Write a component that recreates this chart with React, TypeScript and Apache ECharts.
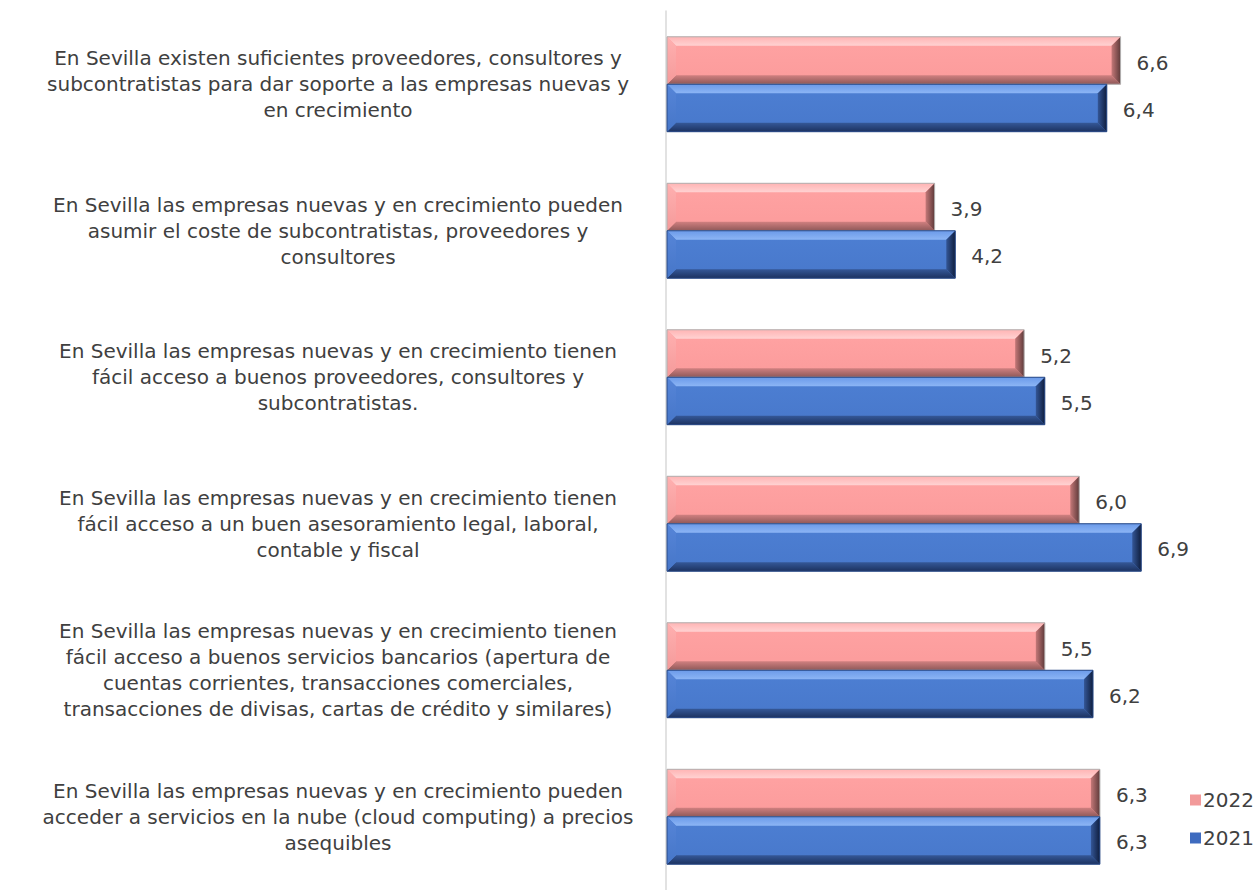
import React, { useEffect, useRef } from "react";
import * as echarts from "echarts";

const categories = [
  "En Sevilla existen suficientes proveedores, consultores y\nsubcontratistas para dar soporte a las empresas nuevas y\nen crecimiento",
  "En Sevilla las empresas nuevas y en crecimiento pueden\nasumir el coste de subcontratistas, proveedores y\nconsultores",
  "En Sevilla las empresas nuevas y en crecimiento tienen\nfácil acceso a buenos proveedores, consultores y\nsubcontratistas.",
  "En Sevilla las empresas nuevas y en crecimiento tienen\nfácil acceso a un buen asesoramiento legal, laboral,\ncontable y fiscal",
  "En Sevilla las empresas nuevas y en crecimiento tienen\nfácil acceso a buenos servicios bancarios (apertura de\ncuentas corrientes, transacciones comerciales,\ntransacciones de divisas, cartas de crédito y similares)",
  "En Sevilla las empresas nuevas y en crecimiento pueden\nacceder a servicios en la nube (cloud computing) a precios\nasequibles",
];
const values2022 = [6.6, 3.9, 5.2, 6.0, 5.5, 6.3];
const values2021 = [6.4, 4.2, 5.5, 6.9, 6.2, 6.3];
const seriesNames = ["2022", "2021"];

const FONT = "DejaVu Sans";
const TEXT = "#404040";

const lin = (a: string, b: string, horiz = false) => ({
  type: "linear",
  x: 0,
  y: 0,
  x2: horiz ? 1 : 0,
  y2: horiz ? 0 : 1,
  colorStops: [
    { offset: 0, color: a },
    { offset: 1, color: b },
  ],
});

const palettes: any = {
  "2022": {
    face: lin("#FFA3A3", "#FB9B9B"),
    top: lin("#FFB4B4", "#FFD2D2"),
    bottom: lin("#D08080", "#8E5858"),
    left: lin("#FFB0B0", "#F59A9A"),
    right: lin("#C47878", "#5E3A3A", true),
    stroke: "#B0B0B0",
    legend: "#F29A9A",
  },
  "2021": {
    face: lin("#4D7FD3", "#4878CB"),
    top: lin("#6B9AE9", "#8CB5F5"),
    bottom: lin("#355898", "#1C3260"),
    left: lin("#5685D8", "#4676C8"),
    right: lin("#345696", "#0F1E3E", true),
    stroke: "#2A4A86",
    legend: "#3E6BBF",
  },
};

const fmt = (v: number) => v.toFixed(1).replace(".", ",");

function makeRender(name: string, isTop: boolean) {
  const p = palettes[name];
  return (params: any, api: any) => {
    const ci = api.value(0);
    const v = api.value(1);
    const start = api.coord([0, ci]);
    const end = api.coord([v, ci]);
    const band = api.size([0, 1])[1];
    const h = band * 0.324;
    const x0 = start[0] + 1;
    const x1 = end[0];
    const y0 = isTop ? start[1] - h : start[1];
    const y1 = y0 + h;
    const b = Math.min(9, (x1 - x0) / 2, h / 2);
    return {
      type: "group",
      children: [
        { type: "rect", shape: { x: x0, y: y0, width: x1 - x0, height: h }, style: { fill: p.face } },
        {
          type: "polygon",
          shape: { points: [[x0, y0], [x1, y0], [x1 - b, y0 + b], [x0 + b, y0 + b]] },
          style: { fill: p.top },
        },
        {
          type: "polygon",
          shape: { points: [[x0, y1], [x1, y1], [x1 - b, y1 - b], [x0 + b, y1 - b]] },
          style: { fill: p.bottom },
        },
        {
          type: "polygon",
          shape: { points: [[x0, y0], [x0 + b, y0 + b], [x0 + b, y1 - b], [x0, y1]] },
          style: { fill: p.left },
        },
        {
          type: "polygon",
          shape: { points: [[x1, y0], [x1 - b, y0 + b], [x1 - b, y1 - b], [x1, y1]] },
          style: { fill: p.right },
        },
        {
          type: "rect",
          shape: { x: x0, y: y0, width: x1 - x0, height: h },
          style: { fill: "none", stroke: p.stroke, lineWidth: 1 },
        },
        {
          type: "text",
          style: {
            text: fmt(v),
            x: x1 + 16,
            y: (y0 + y1) / 2 + 2,
            verticalAlign: "middle",
            align: "left",
            fontSize: 20,
            fontFamily: FONT,
            fill: TEXT,
          },
        },
      ],
    };
  };
}

export default function App() {
  const ref = useRef<HTMLDivElement>(null);
  useEffect(() => {
    const chart = echarts.init(ref.current!, null, { renderer: "svg" });
    const mk = (name: string, vals: number[], isTop: boolean) => ({
      type: "custom",
      name,
      color: palettes[name].legend,
      encode: { x: 1, y: 0 },
      data: vals.map((v, i) => [i, v]),
      renderItem: makeRender(name, isTop),
    });
    chart.setOption({
      animation: false,
      backgroundColor: "#ffffff",
      grid: { left: 666, top: 11, width: 551, height: 888, containLabel: false },
      xAxis: {
        type: "value",
        min: 0,
        max: 8,
        axisLabel: { show: false },
        axisLine: { show: false },
        axisTick: { show: false },
        splitLine: { show: false },
      },
      yAxis: {
        type: "category",
        inverse: true,
        data: categories,
        axisLine: { show: true, lineStyle: { color: "#D9D9D9", width: 1.5 } },
        axisTick: { show: false },
        axisLabel: {
          align: "center",
          margin: 328,
          fontSize: 20,
          lineHeight: 26,
          fontFamily: FONT,
          color: TEXT,
        },
      },
      legend: {
        orient: "vertical",
        left: 1185,
        top: 785,
        itemWidth: 11,
        itemHeight: 11,
        itemGap: 18,
        icon: "rect",
        textStyle: { fontSize: 20, fontFamily: FONT, color: TEXT, padding: [0, 0, 0, -3] },
        data: seriesNames,
      },
      series: [mk("2022", values2022, true), mk("2021", values2021, false)],
    });
    return () => chart.dispose();
  }, []);
  return (
    <div
      ref={ref}
      style={{ position: "fixed", left: 0, top: 0, width: 1257, height: 890 }}
    />
  );
}
